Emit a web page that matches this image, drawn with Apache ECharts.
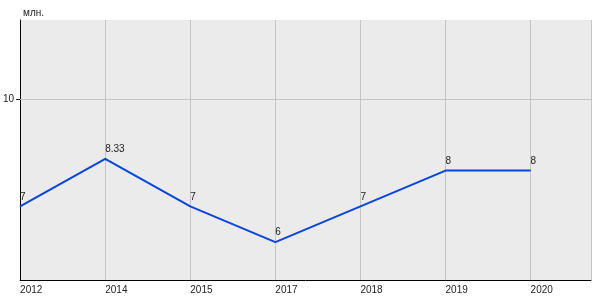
<!DOCTYPE html>
<html><head><meta charset="utf-8">
<script src="https://cdn.jsdelivr.net/npm/echarts@6/dist/echarts.min.js"></script>
<style>html,body{margin:0;padding:0;background:#fff}#c{width:600px;height:300px}</style>
</head><body><div id="c"></div>
<script>
var categories = ['2012','2014','2015','2017','2018','2019','2020'];
var values = [7, 8.33, 7, 6, 7, 8, 8];
var yTicks = [10];
var unitLabel = 'млн.';

var chart = echarts.init(document.getElementById('c'), null, {renderer:'canvas'});
var pts = values.map(function(v,i){return [i,v];});
chart.setOption({
  animation:false,
  textStyle:{fontFamily:'Liberation Sans, Arial, sans-serif'},
  title:{text:unitLabel,left:18,top:3,textStyle:{fontSize:10,fontWeight:'normal',color:'#222'}},
  grid:{left:20,right:9,top:20,bottom:20,show:true,backgroundColor:'#ebebeb',borderWidth:0},
  xAxis:{type:'value',min:0,max:6.71,interval:1,
    axisLine:{show:true,onZero:false,lineStyle:{color:'#000',width:1}},
    axisTick:{show:false},
    splitLine:{show:true,lineStyle:{color:'#c4c4c4',width:1}},
    axisLabel:{show:true,showMaxLabel:false,align:'left',margin:5,fontSize:10,color:'#222',
      formatter:function(v){var i=Math.round(v);return (Math.abs(v-i)<1e-6&&categories[i])?categories[i]:'';}}
  },
  yAxis:{type:'value',min:4.94,max:12.21,
    axisLine:{show:true,onZero:false,lineStyle:{color:'#000',width:1}},
    axisTick:{show:true,length:4,customValues:yTicks,lineStyle:{color:'#000'}},
    splitLine:{show:false},
    axisLabel:{fontSize:10,color:'#222',margin:6,customValues:yTicks}
  },
  series:[{type:'line',data:pts,symbol:'circle',symbolSize:1,showSymbol:true,
    itemStyle:{color:'#0645de'},
    lineStyle:{color:'#0645de',width:2},
    label:{show:true,position:'top',align:'left',distance:4,fontSize:10,color:'#222',
      formatter:function(p){return String(p.value[1]);}},
    markLine:{silent:true,symbol:'none',label:{show:false},
      lineStyle:{color:'#c4c4c4',width:1,type:'solid'},
      data:yTicks.map(function(t){return {yAxis:t};})},
    z:3
  }]
});
</script></body></html>
